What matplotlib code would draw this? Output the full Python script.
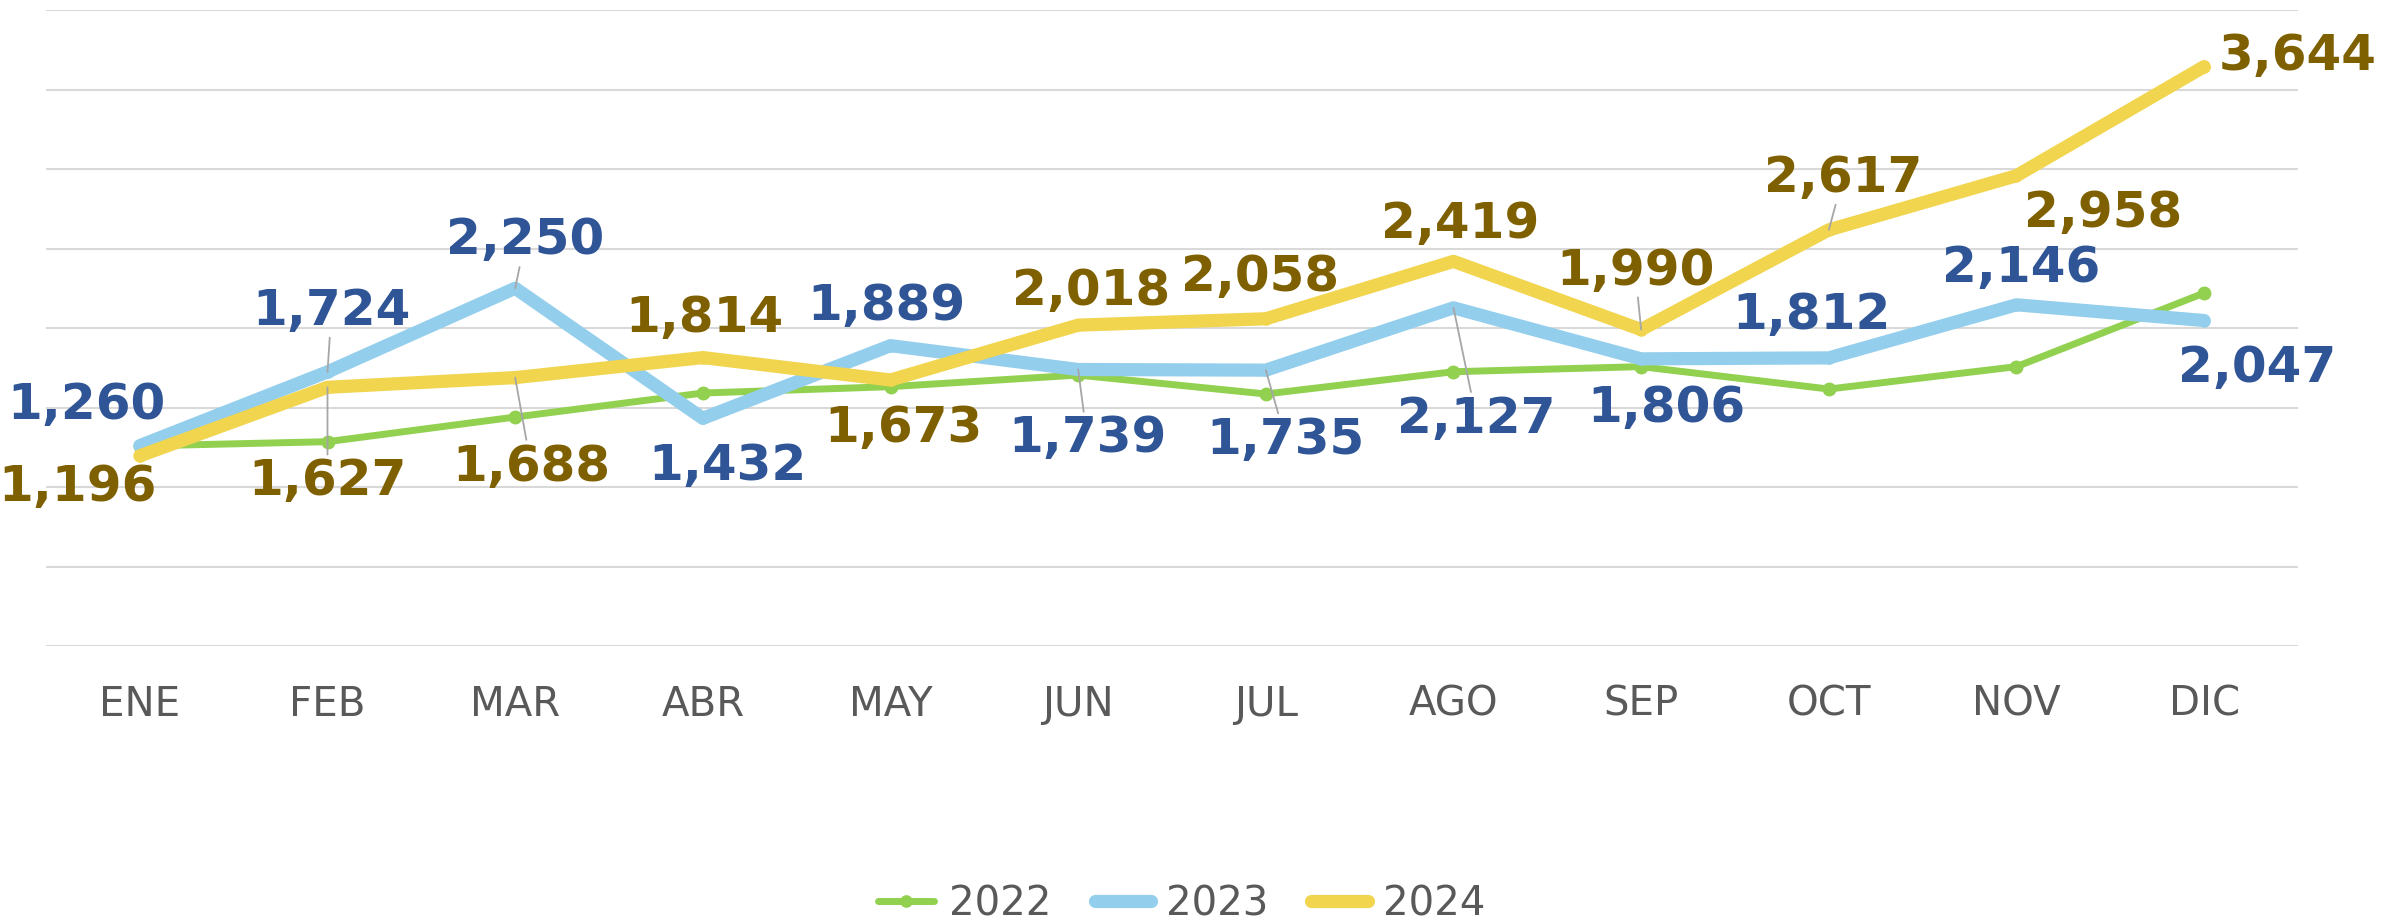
import matplotlib.pyplot as plt
import numpy as np

# Monthly values
months = ['ENE', 'FEB', 'MAR', 'ABR', 'MAY', 'JUN', 'JUL', 'AGO', 'SEP', 'OCT', 'NOV', 'DIC']
v2022 = [1258, 1285, 1440, 1591, 1631, 1704, 1585, 1725, 1757, 1616, 1757, 2220]
v2023 = [1260, 1724, 2250, 1432, 1889, 1739, 1735, 2127, 1806, 1812, 2146, 2047]
v2024 = [1196, 1627, 1688, 1814, 1673, 2018, 2058, 2419, 1990, 2617, 2958, 3644]

# label offsets in pixels (dx, dy) and whether a leader line is drawn
off2023 = [(-53, 41), (4, 61), (10, 48), (25, -48), (-4, 40), (9, -69),
           (20, -70), (23, -111), (25, -49), (-17, 43), (5, 37), (53, -47)]
lead2023 = [0, 1, 1, 0, 0, 1, 1, 1, 0, 0, 0, 0]
off2024 = [(-62, -31), (0, -94), (16, -89), (2, 40), (13, -48), (13, 34),
           (-6, 42), (7, 37), (-6, 59), (14, 52), (87, -37), (94, 11)]
lead2024 = [0, 1, 1, 0, 0, 0, 0, 0, 1, 1, 0, 0]

c2022 = '#92D050'
c2023 = '#93CEEC'
c2024 = '#F1D54E'
lab2023 = '#2F5597'
lab2024 = '#7F6000'

fig = plt.figure(figsize=(23.87, 9.23), dpi=100)
ax = fig.add_axes([46 / 2387, 1 - 646 / 923, (2298 - 46) / 2387, (646 - 10) / 923])

x = np.arange(len(months))
ax.plot(x, v2022, color=c2022, lw=5, marker='o', ms=9, solid_capstyle='round', label='2022', zorder=3)
ax.plot(x, v2023, color=c2023, lw=9.5, marker='o', ms=8, solid_capstyle='round', label='2023', zorder=4)
ax.plot(x, v2024, color=c2024, lw=9.5, marker='o', ms=8, solid_capstyle='round', label='2024', zorder=5)

# data labels
for vals, offs, leads, col in [(v2023, off2023, lead2023, lab2023), (v2024, off2024, lead2024, lab2024)]:
    for i, v in enumerate(vals):
        ap = dict(arrowstyle='-', color='#A6A6A6', lw=1.3, shrinkA=0, shrinkB=0) if leads[i] else None
        ax.annotate(f'{v:,}', xy=(i, v), xytext=offs[i], textcoords='offset pixels',
                    ha='center', va='center', fontsize=36, fontweight='bold', color=col,
                    family='DejaVu Sans', arrowprops=ap, annotation_clip=False, zorder=6)

ax.set_xlim(-0.5, 11.5)
ax.set_ylim(0, 4000)
ax.set_yticks(np.arange(0, 4001, 500))
ax.set_yticklabels([])
ax.set_xticks(x)
ax.set_xticklabels(months, fontsize=29, color='#595959')
ax.tick_params(length=0, pad=28)
ax.grid(axis='y', color='#D9D9D9', lw=1.5)
ax.set_axisbelow(True)
for s in ax.spines.values():
    s.set_visible(False)

fig.legend(loc='center', bbox_to_anchor=(0.495, 0.02), ncol=3, frameon=False,
           fontsize=29, labelcolor='#595959', handlelength=1.4, handletextpad=0.37,
           columnspacing=1.07, markerscale=0.9)

fig.savefig('out.png', dpi=100)
